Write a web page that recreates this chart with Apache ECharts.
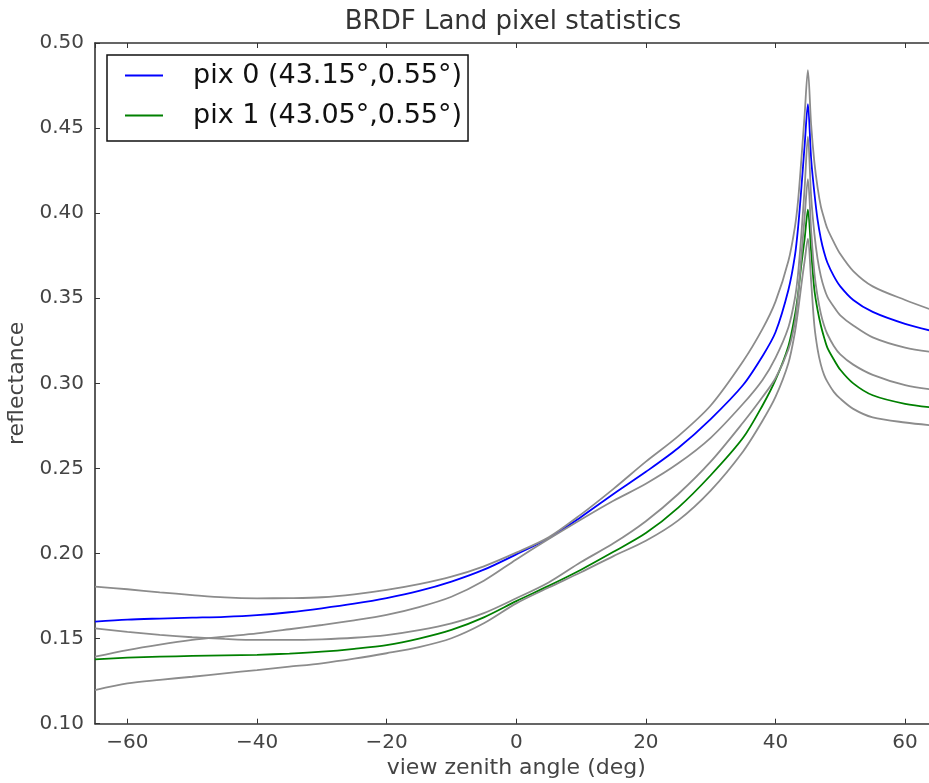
<!DOCTYPE html>
<html>
<head>
<meta charset="utf-8">
<script src="https://cdn.jsdelivr.net/npm/echarts@6/dist/echarts.min.js"></script>
<style>
  html, body { margin: 0; padding: 0; background: #fff; }
  #chart { width: 929px; height: 783px; }
</style>
</head>
<body>
<div id="chart"></div>
<script>
// View zenith angles (deg) at which the BRDF reflectance is sampled
const angles = [-65,-60,-55,-50,-45,-40,-35,-30,-25,-20,-15,-10,-5,0,5,10,15,20,25,30,35,38,40,42,43,43.5,44,44.5,45,45.5,46,46.5,47,47.5,48,49,50,52,55,60,65];

// pix 0 mean reflectance and its two bounds
const pix0 = [0.1600,0.1612,0.1618,0.1623,0.1628,0.1638,0.1655,0.1678,0.1705,0.1738,0.1780,0.1835,0.1905,0.1995,0.2090,0.2215,0.2350,0.2480,0.2620,0.2790,0.2990,0.3160,0.330,0.355,0.375,0.392,0.415,0.440,0.464,0.432,0.412,0.396,0.385,0.377,0.371,0.363,0.357,0.349,0.342,0.335,0.330];
const pix0Upper = [0.1805,0.1790,0.1772,0.1756,0.1742,0.1737,0.1738,0.1743,0.1760,0.1786,0.1820,0.1864,0.1925,0.2005,0.2095,0.2230,0.2380,0.2540,0.2690,0.2870,0.3130,0.3320,0.348,0.372,0.392,0.408,0.432,0.458,0.484,0.452,0.430,0.415,0.404,0.397,0.391,0.383,0.376,0.366,0.357,0.349,0.342];
const pix0Lower = [0.1394,0.1433,0.1465,0.1492,0.1512,0.1531,0.1555,0.1580,0.1607,0.1639,0.1685,0.1746,0.1840,0.1965,0.2085,0.2200,0.2310,0.2410,0.2530,0.2680,0.2880,0.3020,0.315,0.333,0.350,0.365,0.388,0.415,0.445,0.410,0.388,0.373,0.363,0.356,0.351,0.345,0.340,0.334,0.327,0.321,0.318];

// pix 1 mean reflectance and its two bounds
const pix1 = [0.1378,0.1388,0.1394,0.1398,0.1401,0.1405,0.1412,0.1423,0.1440,0.1462,0.1500,0.1551,0.1625,0.1720,0.1810,0.1905,0.2010,0.2120,0.2270,0.2460,0.2680,0.2870,0.302,0.322,0.340,0.353,0.370,0.385,0.402,0.378,0.355,0.343,0.334,0.327,0.321,0.314,0.308,0.300,0.293,0.288,0.2855];
const pix1Upper = [0.1560,0.1540,0.1522,0.1508,0.1498,0.1492,0.1492,0.1496,0.1505,0.1521,0.1550,0.1590,0.1650,0.1737,0.1830,0.1950,0.2060,0.2190,0.2350,0.2540,0.2770,0.2920,0.303,0.320,0.336,0.352,0.375,0.398,0.420,0.390,0.365,0.351,0.341,0.334,0.329,0.322,0.317,0.311,0.305,0.299,0.296];
const pix1Lower = [0.1198,0.1237,0.1258,0.1276,0.1296,0.1315,0.1335,0.1355,0.1382,0.1414,0.1450,0.1502,0.1590,0.1707,0.1800,0.1890,0.1985,0.2075,0.2195,0.2370,0.2600,0.2780,0.292,0.312,0.330,0.343,0.358,0.372,0.385,0.360,0.334,0.320,0.311,0.305,0.301,0.295,0.291,0.285,0.280,0.277,0.275];

const legendNames = ['pix 0 (43.15°,0.55°)', 'pix 1 (43.05°,0.55°)'];
const yTicks = { min: 0.10, max: 0.50, step: 0.05 };
const xRange = { min: -65, max: 65, step: 20 };

const pairs = ys => angles.map((x, i) => [x, ys[i]]);
const FONT = 'DejaVu Sans';
const AXIS = '#333';
const GRAY = '#8c8c8c';

function lineSeries(name, ys, color) {
  return {
    name: name,
    type: 'line',
    data: pairs(ys),
    color: color,
    showSymbol: false,
    symbol: 'none',
    smooth: 0.3,
    lineStyle: { color: color, width: 1.8 },
    emphasis: { disabled: true },
    silent: true
  };
}

const fmtX = v => (v < 0 ? '\u2212' + Math.abs(v) : String(v));

const xAxisBase = {
  type: 'value',
  min: xRange.min,
  max: xRange.max,
  splitNumber: 6,
  minInterval: xRange.step,
  maxInterval: xRange.step,
  axisLine: { show: true, onZero: false, lineStyle: { color: AXIS, width: 1.6 } },
  axisTick: { show: true, inside: true, length: 5, lineStyle: { color: AXIS, width: 1 } },
  splitLine: { show: false }
};
const yAxisBase = {
  type: 'value',
  min: yTicks.min,
  max: yTicks.max,
  interval: yTicks.step,
  axisLine: { show: true, onZero: false, lineStyle: { color: AXIS, width: 1.6 } },
  axisTick: { show: true, inside: true, length: 5, lineStyle: { color: AXIS, width: 1 } },
  splitLine: { show: false }
};

const chart = echarts.init(document.getElementById('chart'), null, { renderer: 'canvas' });
chart.setOption({
  animation: false,
  backgroundColor: '#fff',
  title: {
    text: 'BRDF Land pixel statistics',
    left: 513,
    textAlign: 'center',
    top: 9,
    padding: 0,
    textStyle: { fontFamily: FONT, fontSize: 26, fontWeight: 'normal', color: '#333' }
  },
  grid: { left: 95, top: 43, width: 842.5, height: 680.7, containLabel: false, outerBoundsMode: 'none' },
  legend: {
    data: legendNames,
    orient: 'vertical',
    left: 107,
    top: 55,
    padding: [7, 6, 12, 18],
    itemGap: 13,
    itemWidth: 38,
    itemHeight: 2,
    icon: 'rect',
    borderColor: '#111',
    borderWidth: 1.5,
    borderRadius: 0,
    backgroundColor: '#fff',
    selectedMode: false,
    textStyle: { fontFamily: FONT, fontSize: 27, color: '#111', padding: [0, 0, 0, 25] }
  },
  xAxis: [
    Object.assign({}, xAxisBase, {
      name: 'view zenith angle (deg)',
      nameLocation: 'middle',
      nameGap: 30,
      nameTextStyle: { fontFamily: FONT, fontSize: 22, color: '#444' },
      axisLabel: {
        fontFamily: FONT, fontSize: 20, color: '#444', margin: 9,
        showMinLabel: false, showMaxLabel: false, formatter: fmtX
      }
    }),
    Object.assign({}, xAxisBase, { position: 'top', axisLabel: { show: false } })
  ],
  yAxis: [
    Object.assign({}, yAxisBase, {
      name: 'reflectance',
      nameLocation: 'middle',
      nameGap: 62,
      nameTextStyle: { fontFamily: FONT, fontSize: 22, color: '#444' },
      axisLabel: { fontFamily: FONT, fontSize: 20, color: '#444', margin: 11, formatter: v => v.toFixed(2) }
    }),
    Object.assign({}, yAxisBase, { position: 'right', axisLabel: { show: false } })
  ],
  series: [
    lineSeries(legendNames[0], pix0, '#0000ff'),
    lineSeries('pix 0 upper', pix0Upper, GRAY),
    lineSeries('pix 0 lower', pix0Lower, GRAY),
    lineSeries(legendNames[1], pix1, '#008000'),
    lineSeries('pix 1 upper', pix1Upper, GRAY),
    lineSeries('pix 1 lower', pix1Lower, GRAY)
  ]
});
</script>
</body>
</html>
